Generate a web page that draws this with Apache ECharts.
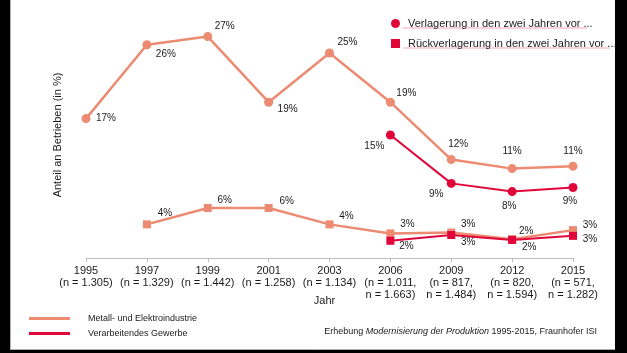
<!DOCTYPE html>
<html>
<head>
<meta charset="utf-8">
<script src="https://cdn.jsdelivr.net/npm/echarts@6/dist/echarts.min.js"></script>
<style>
  html, body { margin: 0; padding: 0; background: #fff; }
  #chart { width: 627px; height: 353px; }
</style>
</head>
<body>
<div id="chart"></div>
<script>
// Kategorien
const years = ['1995', '1997', '1999', '2001', '2003', '2006', '2009', '2012', '2015']
const sampleSizes = [
  '(n = 1.305)', '(n = 1.329)', '(n = 1.442)', '(n = 1.258)', '(n = 1.134)',
  '(n = 1.011,\nn = 1.663)', '(n = 817,\nn = 1.484)', '(n = 820,\nn = 1.594)', '(n = 571,\nn = 1.282)',
]

// Werte (in %)
const metalVerlagerung = [17, 26, 27, 19, 25, 19, 12, 10.9, 11.2]
const gewerbeVerlagerung = [null, null, null, null, null, 15, 9.1, 8.1, 8.6]
const metalRueck = [null, 4.1, 6.1, 6.1, 4.1, 3.0, 3.1, 2.3, 3.4]
const gewerbeRueck = [null, null, null, null, null, 2.1, 2.8, 2.2, 2.7]

const NAME_METAL = 'Metall- und Elektroindustrie'
const NAME_GEWERBE = 'Verarbeitendes Gewerbe'
const NAME_VERL = 'Verlagerung in den zwei Jahren vor ...'
const NAME_RUECK = 'Rückverlagerung in den zwei Jahren vor ...'

const colMetal = '#ec8a72'
const colGewerbe = '#e0063a'
const font = 'Liberation Sans, Arial, sans-serif'

// Label-Versatz (Mitte des Labels relativ zum Punkt)
const offMetalVerl = [[20, 0], [19, 9], [17, -10], [19, 7], [18, -11], [16, -9], [7, -15], [0, -17], [0, -15]]
const offGewerbeVerl = [null, null, null, null, null, [-16, 11], [-15, 11], [-3, 15], [-3, 14]]
const offMetalRueck = [null, [18, -11], [17, -8], [18, -7], [17, -8], [17, -9], [17, -8], [14, -8], [17, -5]]
const offGewerbeRueck = [null, null, null, null, null, [16, 5], [17, 7], [17, 7], [17, 3]]

function withLabels(values, offsets) {
  return values.map((v, i) => {
    if (v == null) return null
    return {
      value: v,
      label: { offset: offsets[i] },
    }
  })
}

function lineSeries(name, values, offsets, color, symbol, size, width, z) {
  return {
    name,
    type: 'line',
    data: withLabels(values, offsets),
    symbol,
    symbolSize: size,
    z,
    lineStyle: { color, width },
    itemStyle: { color },
    emphasis: { disabled: true },
    label: {
      show: true,
      position: 'inside',
      color: '#1a1a1a',
      fontSize: 10,
      fontFamily: font,
      formatter: (p) => Math.round(p.value) + '%',
    },
  }
}

const chart = echarts.init(document.getElementById('chart'))

chart.setOption({
  animation: false,
  backgroundColor: '#fff',
  grid: { left: 86, right: 54, top: 12, bottom: 95 },
  xAxis: {
    type: 'category',
    data: years,
    boundaryGap: false,
    name: 'Jahr',
    nameLocation: 'middle',
    nameGap: 37,
    nameMoveOverlap: false,
    nameTextStyle: { color: '#1a1a1a', fontSize: 11, fontFamily: font, padding: [0, 10, 0, 0] },
    axisLine: { lineStyle: { color: '#bdbdbd', width: 1 } },
    axisTick: { length: 4, lineStyle: { color: '#bdbdbd' } },
    axisLabel: {
      color: '#1a1a1a',
      fontSize: 11,
      fontFamily: font,
      lineHeight: 12,
      margin: 7,
      interval: 0,
      formatter: (v, i) => v + '\n' + sampleSizes[i],
    },
  },
  yAxis: {
    type: 'value',
    min: 0,
    max: 30,
    name: 'Anteil an Betrieben (in %)',
    nameLocation: 'middle',
    nameGap: 23,
    nameMoveOverlap: false,
    nameTextStyle: { color: '#1a1a1a', fontSize: 11, fontFamily: font },
    axisLine: { show: false },
    axisTick: { show: false },
    axisLabel: { show: false },
    splitLine: { show: false },
  },
  legend: [
    {
      orient: 'vertical',
      left: 386,
      top: 13,
      itemWidth: 9,
      itemHeight: 9,
      itemGap: 9,
      selectedMode: false,
      textStyle: { color: '#1a1a1a', fontSize: 11, fontFamily: font, padding: [0, 0, 0, 3] },
      data: [
        { name: NAME_VERL, icon: 'circle', itemStyle: { color: colGewerbe } },
        { name: NAME_RUECK, icon: 'rect', itemStyle: { color: colGewerbe } },
      ],
    },
    {
      orient: 'vertical',
      left: 24,
      top: 309,
      itemWidth: 41,
      itemHeight: 3,
      itemGap: 6,
      selectedMode: false,
      textStyle: { color: '#1a1a1a', fontSize: 9, fontFamily: font, padding: [0, 0, 0, 13] },
      data: [
        { name: NAME_METAL, icon: 'rect', itemStyle: { color: colMetal } },
        { name: NAME_GEWERBE, icon: 'rect', itemStyle: { color: colGewerbe } },
      ],
    },
  ],
  series: [
    lineSeries(NAME_METAL, metalVerlagerung, offMetalVerl, colMetal, 'circle', 9, 2.5, 2),
    lineSeries(NAME_METAL, metalRueck, offMetalRueck, colMetal, 'rect', 8, 2.5, 2),
    lineSeries(NAME_GEWERBE, gewerbeVerlagerung, offGewerbeVerl, colGewerbe, 'circle', 9, 2, 3),
    lineSeries(NAME_GEWERBE, gewerbeRueck, offGewerbeRueck, colGewerbe, 'rect', 8, 2, 3),
    // nur für die Legende oben rechts
    { name: NAME_VERL, type: 'line', data: [], itemStyle: { color: colGewerbe } },
    { name: NAME_RUECK, type: 'line', data: [], itemStyle: { color: colGewerbe } },
  ],
  graphic: [
    // Quelle
    {
      type: 'text',
      right: 30,
      top: 327,
      style: {
        text: 'Erhebung {i|Modernisierung der Produktion} 1995-2015, Fraunhofer ISI',
        fill: '#1a1a1a',
        fontSize: 9,
        fontFamily: font,
        rich: { i: { fontStyle: 'italic', fontSize: 9, fontFamily: font, fill: '#1a1a1a' } },
      },
    },
    // rote Unterstreichungen der Legende
    { type: 'line', shape: { x1: 403, y1: 28, x2: 587, y2: 28 }, style: { stroke: '#f4a6b0', lineWidth: 1 }, silent: true },
    { type: 'line', shape: { x1: 403, y1: 48, x2: 610, y2: 48 }, style: { stroke: '#f4a6b0', lineWidth: 1 }, silent: true },
    // schwarzer Rahmen
    { type: 'rect', shape: { x: 0, y: 0, width: 10, height: 353 }, style: { fill: '#000' }, silent: true },
    { type: 'rect', shape: { x: 615, y: 0, width: 12, height: 353 }, style: { fill: '#000' }, silent: true },
    { type: 'rect', shape: { x: 0, y: 350, width: 627, height: 3 }, style: { fill: '#000' }, silent: true },
    { type: 'line', shape: { x1: 10.5, y1: 0, x2: 10.5, y2: 350 }, style: { stroke: '#b0b0b0', lineWidth: 1 }, silent: true },
    { type: 'line', shape: { x1: 10, y1: 349.5, x2: 615, y2: 349.5 }, style: { stroke: '#b0b0b0', lineWidth: 1 }, silent: true },
  ],
})
</script>
</body>
</html>
